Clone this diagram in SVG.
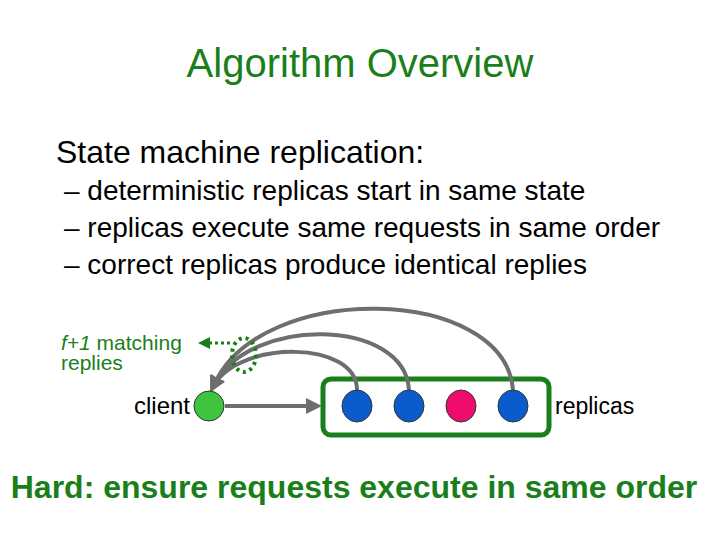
<svg xmlns="http://www.w3.org/2000/svg" width="720" height="540" viewBox="0 0 720 540">
<style>
text{font-family:"Liberation Sans",Arial,sans-serif}
.g{fill:#1a7f1a}
.arc{fill:none;stroke:#6e6e6e;stroke-width:4}
</style>
<defs>
<marker id="ah" markerWidth="4" markerHeight="4" refX="2" refY="2" orient="auto"><path d="M0,0L4,2L0,4z" fill="#6e6e6e"/></marker>
<marker id="gh" markerWidth="4" markerHeight="4" refX="2" refY="2" orient="auto"><path d="M0,0L4,2L0,4z" fill="#1a7f1a"/></marker>
</defs>
<rect width="720" height="540" fill="#fff"/>
<text x="360" y="77" text-anchor="middle" font-size="40" class="g">Algorithm Overview</text>
<text x="56" y="163" font-size="32">State machine replication:</text>
<text x="64" y="200" font-size="28">– deterministic replicas start in same state</text>
<text x="64" y="237" font-size="28">– replicas execute same requests in same order</text>
<text x="64" y="274" font-size="28">– correct replicas produce identical replies</text>
<g id="box"><rect x="323" y="379" width="226" height="56" rx="8" fill="none" stroke="#1a7f1a" stroke-width="5"/></g>
<g id="connectors">
<line x1="225" y1="406" x2="314" y2="406" class="arc" marker-end="url(#ah)"/>
<path d="M357,390 C357,340 240,340 214,385" class="arc" marker-end="url(#ah)"/>
<path d="M409,390 C405,318 250,315 214,385" class="arc" marker-end="url(#ah)"/>
<path d="M513,390 C505,285 260,280 214,385" class="arc" marker-end="url(#ah)"/>
<ellipse cx="244" cy="355" rx="12" ry="17" fill="none" stroke="#1a7f1a" stroke-width="4" stroke-dasharray="3,4"/>
<line x1="230" y1="343" x2="204" y2="343" stroke="#1a7f1a" stroke-width="3" stroke-dasharray="3,3" marker-end="url(#gh)"/>
</g>
<g id="client"><circle cx="209" cy="406" r="15" fill="#3fc43f" stroke="#333"/><text x="190" y="414" text-anchor="end" font-size="24">client</text></g>
<g id="r1"><ellipse cx="357" cy="406" rx="15" ry="16" fill="#0a5ccc" stroke="#333"/></g>
<g id="r2"><ellipse cx="409" cy="406" rx="15" ry="16" fill="#0a5ccc" stroke="#333"/></g>
<g id="r3"><ellipse cx="461" cy="406" rx="15" ry="16" fill="#f00c6c" stroke="#333"/></g>
<g id="r4"><ellipse cx="513" cy="406" rx="15" ry="16" fill="#0a5ccc" stroke="#333"/></g>
<text x="555" y="414" font-size="23">replicas</text>
<text x="61" y="350" font-size="21" class="g"><tspan font-style="italic">f+1</tspan> matching</text>
<text x="61" y="370" font-size="21" class="g">replies</text>
<text x="354" y="498" text-anchor="middle" font-size="32" font-weight="bold" class="g">Hard: ensure requests execute in same order</text>
</svg>
